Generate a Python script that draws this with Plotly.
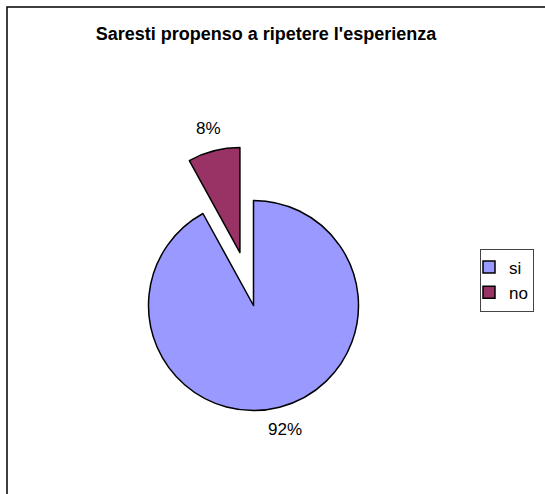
import math
import plotly.graph_objects as go

# Survey answers: "would you repeat the experience?"
labels = ["si", "no"]
values = [92, 8]
colors = ["#9999FF", "#993366"]
pulls = [0, 0.52]

W, H = 545, 494
cx, cy = 253.5, 305.5          # pie centre in pixels
r = 105                         # pie radius in pixels
half = r * (1 + max(pulls))     # plotly shrinks the radius to fit the pull
label_dist = 1.22               # percentage labels sit just outside the rim

FONT = "Liberation Sans, Arial, sans-serif"

fig = go.Figure(
    go.Pie(
        labels=labels,
        values=values,
        sort=False,
        direction="clockwise",
        rotation=0,
        pull=pulls,
        marker=dict(colors=colors, line=dict(color="black", width=1.5)),
        textinfo="none",
        hoverinfo="label+percent",
        domain=dict(
            x=[(cx - half) / W, (cx + half) / W],
            y=[1 - (cy + half) / H, 1 - (cy - half) / H],
        ),
    )
)

# Percentage labels placed along each slice's bisector (clockwise from 12 o'clock)
total = sum(values)
annotations = []
start = 0.0
for val, pull in zip(values, pulls):
    frac = val / total
    mid = (start + frac / 2) * 2 * math.pi
    dx, dy = math.sin(mid), -math.cos(mid)      # screen direction (y down)
    sx, sy = cx + dx * pull * r, cy + dy * pull * r
    px, py = sx + dx * label_dist * r, sy + dy * label_dist * r
    annotations.append(
        dict(
            text=f"{round(frac * 100)}%",
            x=px / W,
            y=1 - py / H,
            xref="paper",
            yref="paper",
            xanchor="center",
            yanchor="middle",
            showarrow=False,
            font=dict(family=FONT, size=17, color="black"),
        )
    )
    start += frac

fig.update_layout(
    width=W,
    height=H,
    margin=dict(l=0, r=0, t=0, b=0, autoexpand=False),
    paper_bgcolor="white",
    plot_bgcolor="white",
    font=dict(family=FONT, size=17, color="black"),
    title=dict(
        text="<b>Saresti propenso a ripetere l'esperienza</b>",
        x=266 / W,
        xanchor="center",
        y=1 - 34 / H,
        yanchor="middle",
        font=dict(family=FONT, size=18, color="black"),
    ),
    legend=dict(
        x=480 / W,
        xanchor="left",
        y=1 - 248.5 / H,
        yanchor="top",
        bordercolor="#444444",
        borderwidth=1,
        bgcolor="white",
        font=dict(family=FONT, size=17, color="black"),
        itemwidth=30,
        indentation=-12,
    ),
    annotations=annotations,
    shapes=[
        dict(
            type="rect",
            xref="paper",
            yref="paper",
            x0=7 / W,
            x1=1.05,
            y0=-0.05,
            y1=1 - 7 / H,
            line=dict(color="black", width=1.5),
            fillcolor="rgba(0,0,0,0)",
        )
    ],
)

fig.write_html("out.html")
